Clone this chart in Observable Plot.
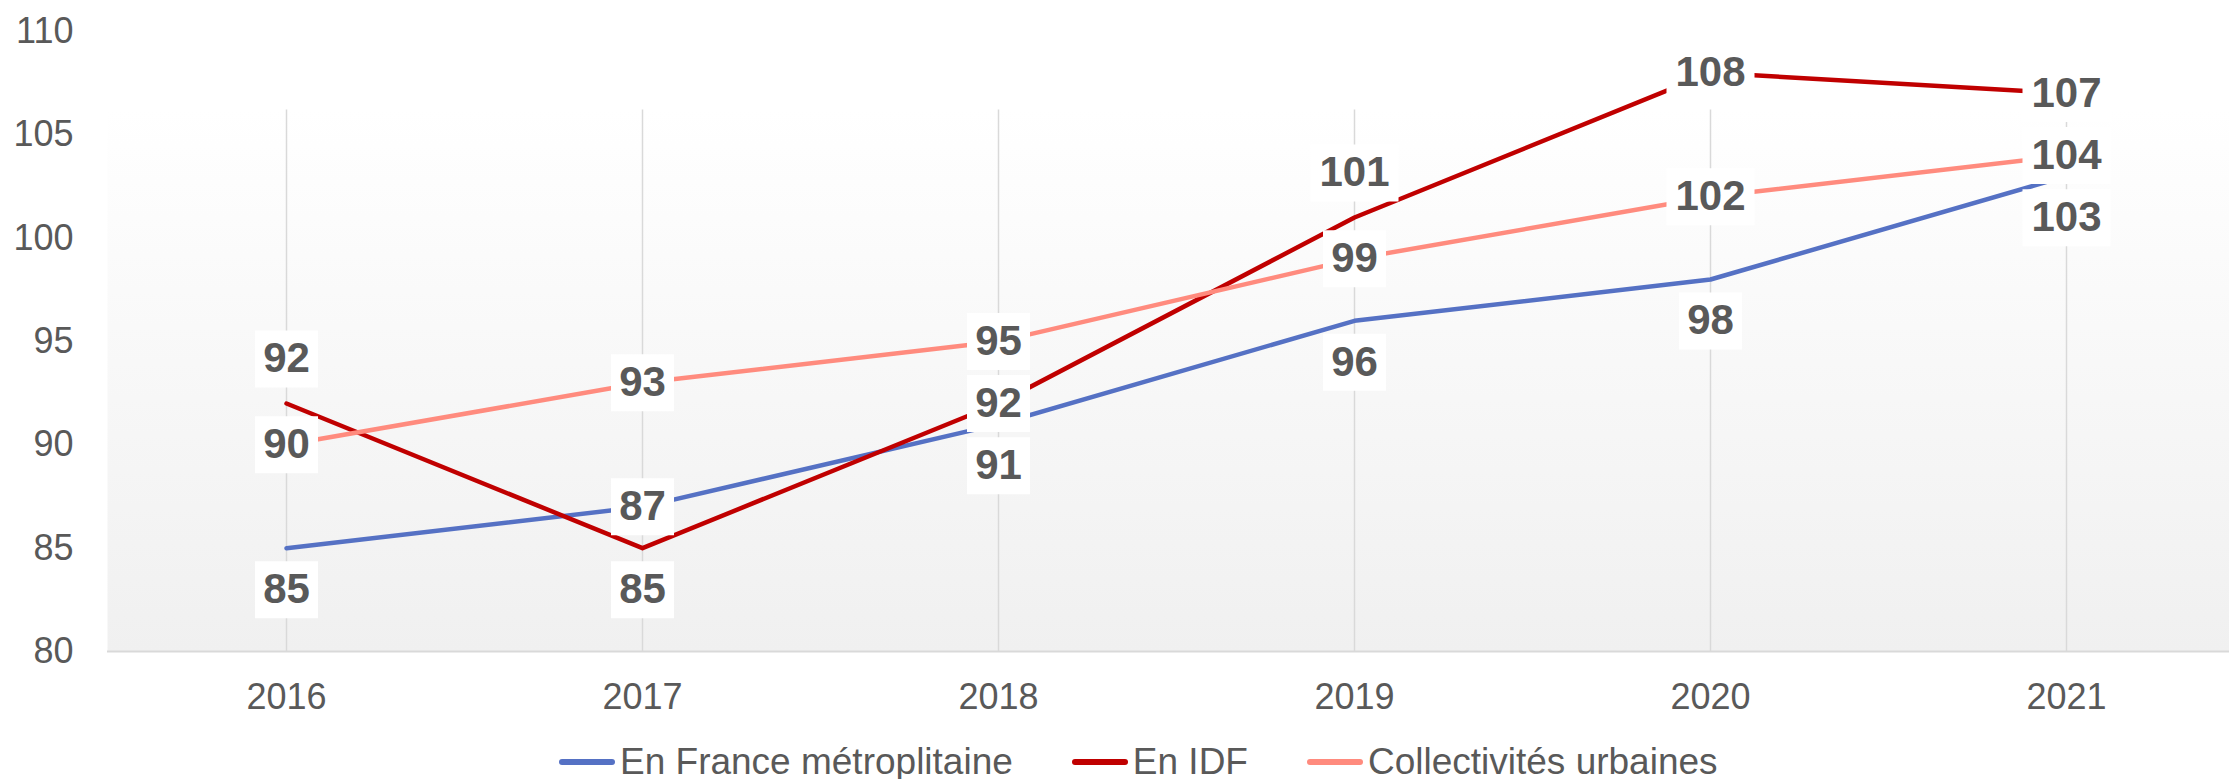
<!DOCTYPE html>
<html><head><meta charset="utf-8">
<script src="https://cdn.jsdelivr.net/npm/d3@7"></script>
<script src="https://cdn.jsdelivr.net/npm/@observablehq/plot@0.6"></script>
<style>
body{margin:0;background:#fff;width:2229px;height:779px;position:relative;overflow:hidden;font-family:"Liberation Sans",Arial,sans-serif;}
#legend{position:absolute;left:559px;top:742px;height:40px;display:flex;align-items:center;font-size:37px;color:#595959;white-space:nowrap;}
.item{display:flex;align-items:center;margin-right:59px;}
.sw{width:56px;height:6px;border-radius:3px;margin-right:5px;}
</style></head><body>
<svg width="0" height="0" style="position:absolute">
  <defs>
    <linearGradient id="plotBg" x1="0" y1="0" x2="0" y2="1">
      <stop offset="0" stop-color="#ffffff"/>
      <stop offset="0.126" stop-color="#ffffff"/>
      <stop offset="1" stop-color="#f0f0f0"/>
    </linearGradient>
  </defs>
</svg>
<div id="chart"></div><div id="legend"></div>
<script>
const years = [2016, 2017, 2018, 2019, 2020, 2021];
const seriesNames = ["En France métroplitaine", "En IDF", "Collectivités urbaines"];
const franceValues = [85, 87, 91, 96, 98, 103];
const idfValues = [92, 85, 92, 101, 108, 107];
const urbainesValues = [90, 93, 95, 99, 102, 104];
const yTicks = [80, 85, 90, 95, 100, 105, 110];
const seriesColors = ["#5571C4", "#C00000", "#FF8B7E"];
// where each data label sits relative to its point
const francePlacement = ["below", "center", "below", "below", "below", "below"];
const idfPlacement = ["above", "below", "center", "above", "center", "center"];
const urbainesPlacement = ["center", "center", "center", "center", "center", "center"];

const allValues = [franceValues, idfValues, urbainesValues];
const allPlacement = [francePlacement, idfPlacement, urbainesPlacement];
const rows = [];
seriesNames.forEach((s, i) => years.forEach((y, j) => rows.push({
  series: s, year: y, value: allValues[i][j], placement: allPlacement[i][j]
})));

const plotAreaTop = 106.2;
const dyFor = {above: -44.5, center: 0, below: 41.5};
const boxSymbol = (w, h) => ({draw(ctx) { ctx.rect(-w / 2, -h / 2, w, h); }});
const narrowBox = boxSymbol(63, 57);
const wideBox = boxSymbol(88, 57);

const labelMarks = [];
for (const p of ["above", "center", "below"]) {
  const sub = rows.filter(d => d.placement === p);
  labelMarks.push(Plot.dot(sub.filter(d => d.value < 100), {x: "year", y: "value", dy: dyFor[p], symbol: narrowBox, fill: "white", stroke: null}));
  labelMarks.push(Plot.dot(sub.filter(d => d.value >= 100), {x: "year", y: "value", dy: dyFor[p], symbol: wideBox, fill: "white", stroke: null}));
}
for (const p of ["above", "center", "below"]) {
  const sub = rows.filter(d => d.placement === p);
  labelMarks.push(Plot.text(sub, {x: "year", y: "value", text: d => String(d.value), dy: dyFor[p], fontSize: 42, fontWeight: "bold", fill: "#595959"}));
}

const chart = Plot.plot({
  width: 2229,
  height: 730,
  marginLeft: 107,
  marginRight: 0,
  marginTop: 31,
  marginBottom: 79,
  style: {background: "white", color: "#595959", fontFamily: "'Liberation Sans', Arial, sans-serif", overflow: "visible"},
  x: {type: "point", domain: years, range: [285, 2067], padding: 0},
  y: {domain: [80, 110]},
  color: {domain: seriesNames, range: seriesColors},
  marks: [
    Plot.frame({fill: "url(#plotBg)", stroke: null}),
    Plot.ruleX(years, {x: d => d, y1: 80, y2: plotAreaTop, stroke: "#d9d9d9", strokeWidth: 1.5}),
    Plot.ruleY([80], {stroke: "#d9d9d9", strokeWidth: 2}),
    Plot.axisY({ticks: yTicks, tickSize: 0, tickPadding: 34, fontSize: 36, label: null}),
    Plot.axisX({tickSize: 0, tickPadding: 32, fontSize: 36, label: null, tickFormat: d => `${d}`}),
    Plot.line(rows, {x: "year", y: "value", z: "series", stroke: "series", strokeWidth: 4.5, strokeLinecap: "round", strokeLinejoin: "round"}),
    ...labelMarks
  ]
});
document.getElementById("chart").appendChild(chart);

const legend = document.getElementById("legend");
seriesNames.forEach((s, i) => {
  const item = document.createElement("div");
  item.className = "item";
  const sw = document.createElement("div");
  sw.className = "sw";
  sw.style.background = seriesColors[i];
  const t = document.createElement("span");
  t.textContent = s;
  item.appendChild(sw);
  item.appendChild(t);
  legend.appendChild(item);
});
</script>
</body></html>
